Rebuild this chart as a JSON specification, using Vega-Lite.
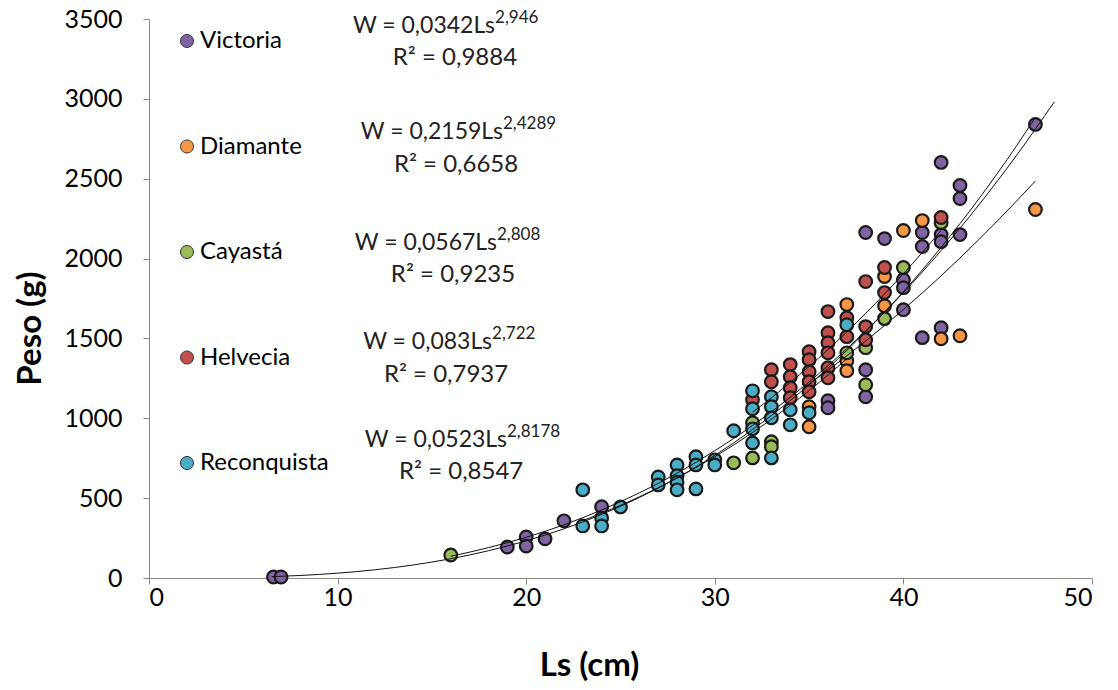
{
  "$schema": "https://vega.github.io/schema/vega-lite/v6.json",
  "width": 943,
  "height": 559,
  "autosize": {"type": "none"},
  "padding": {"left": 149, "top": 19, "right": 26, "bottom": 112},
  "background": "white",
  "config": {
    "view": {"stroke": null},
    "font": "Lato",
    "axis": {
      "grid": false,
      "domainColor": "#868686",
      "tickColor": "#868686",
      "tickSize": 6,
      "labelFont": "Lato",
      "labelFontSize": 25,
      "labelColor": "#000000",
      "titleFont": "Lato",
      "titleFontSize": 33,
      "titleFontWeight": "bold",
      "titleColor": "#000000"
    }
  },
  "datasets": {
    "points": [
      {"site": "Victoria", "Ls": 6.6, "W": 6},
      {"site": "Victoria", "Ls": 7.0, "W": 6},
      {"site": "Victoria", "Ls": 19, "W": 194},
      {"site": "Victoria", "Ls": 20, "W": 257},
      {"site": "Victoria", "Ls": 20, "W": 200},
      {"site": "Victoria", "Ls": 21, "W": 245},
      {"site": "Victoria", "Ls": 22, "W": 358},
      {"site": "Victoria", "Ls": 24, "W": 446},
      {"site": "Victoria", "Ls": 36, "W": 1110},
      {"site": "Victoria", "Ls": 36, "W": 1066},
      {"site": "Victoria", "Ls": 38, "W": 1304},
      {"site": "Victoria", "Ls": 38, "W": 1135},
      {"site": "Victoria", "Ls": 38, "W": 2163},
      {"site": "Victoria", "Ls": 39, "W": 2125},
      {"site": "Victoria", "Ls": 40, "W": 1868},
      {"site": "Victoria", "Ls": 40, "W": 1818},
      {"site": "Victoria", "Ls": 40, "W": 1680},
      {"site": "Victoria", "Ls": 41, "W": 2163},
      {"site": "Victoria", "Ls": 41, "W": 2075},
      {"site": "Victoria", "Ls": 41, "W": 1505},
      {"site": "Victoria", "Ls": 42, "W": 2602},
      {"site": "Victoria", "Ls": 42, "W": 2150},
      {"site": "Victoria", "Ls": 42, "W": 2106},
      {"site": "Victoria", "Ls": 42, "W": 1567},
      {"site": "Victoria", "Ls": 43, "W": 2458},
      {"site": "Victoria", "Ls": 43, "W": 2376},
      {"site": "Victoria", "Ls": 43, "W": 2150},
      {"site": "Victoria", "Ls": 47, "W": 2840},
      {"site": "Diamante", "Ls": 35, "W": 1072},
      {"site": "Diamante", "Ls": 35, "W": 947},
      {"site": "Diamante", "Ls": 37, "W": 1712},
      {"site": "Diamante", "Ls": 37, "W": 1360},
      {"site": "Diamante", "Ls": 37, "W": 1298},
      {"site": "Diamante", "Ls": 39, "W": 1887},
      {"site": "Diamante", "Ls": 39, "W": 1705},
      {"site": "Diamante", "Ls": 40, "W": 2176},
      {"site": "Diamante", "Ls": 41, "W": 2238},
      {"site": "Diamante", "Ls": 42, "W": 1498},
      {"site": "Diamante", "Ls": 43, "W": 1517},
      {"site": "Diamante", "Ls": 47, "W": 2307},
      {"site": "Cayastá", "Ls": 16, "W": 144},
      {"site": "Cayastá", "Ls": 31, "W": 721},
      {"site": "Cayastá", "Ls": 32, "W": 972},
      {"site": "Cayastá", "Ls": 32, "W": 752},
      {"site": "Cayastá", "Ls": 33, "W": 853},
      {"site": "Cayastá", "Ls": 33, "W": 822},
      {"site": "Cayastá", "Ls": 37, "W": 1410},
      {"site": "Cayastá", "Ls": 38, "W": 1442},
      {"site": "Cayastá", "Ls": 38, "W": 1210},
      {"site": "Cayastá", "Ls": 39, "W": 1624},
      {"site": "Cayastá", "Ls": 40, "W": 1944},
      {"site": "Cayastá", "Ls": 42, "W": 2225},
      {"site": "Helvecia", "Ls": 32, "W": 1116},
      {"site": "Helvecia", "Ls": 33, "W": 1304},
      {"site": "Helvecia", "Ls": 33, "W": 1229},
      {"site": "Helvecia", "Ls": 34, "W": 1336},
      {"site": "Helvecia", "Ls": 34, "W": 1260},
      {"site": "Helvecia", "Ls": 34, "W": 1191},
      {"site": "Helvecia", "Ls": 34, "W": 1129},
      {"site": "Helvecia", "Ls": 35, "W": 1417},
      {"site": "Helvecia", "Ls": 35, "W": 1367},
      {"site": "Helvecia", "Ls": 35, "W": 1292},
      {"site": "Helvecia", "Ls": 35, "W": 1229},
      {"site": "Helvecia", "Ls": 35, "W": 1166},
      {"site": "Helvecia", "Ls": 36, "W": 1668},
      {"site": "Helvecia", "Ls": 36, "W": 1536},
      {"site": "Helvecia", "Ls": 36, "W": 1473},
      {"site": "Helvecia", "Ls": 36, "W": 1410},
      {"site": "Helvecia", "Ls": 36, "W": 1317},
      {"site": "Helvecia", "Ls": 36, "W": 1254},
      {"site": "Helvecia", "Ls": 37, "W": 1630},
      {"site": "Helvecia", "Ls": 37, "W": 1511},
      {"site": "Helvecia", "Ls": 38, "W": 1856},
      {"site": "Helvecia", "Ls": 38, "W": 1574},
      {"site": "Helvecia", "Ls": 38, "W": 1492},
      {"site": "Helvecia", "Ls": 39, "W": 1944},
      {"site": "Helvecia", "Ls": 39, "W": 1787},
      {"site": "Helvecia", "Ls": 42, "W": 2257},
      {"site": "Reconquista", "Ls": 23, "W": 552},
      {"site": "Reconquista", "Ls": 23, "W": 326},
      {"site": "Reconquista", "Ls": 24, "W": 375},
      {"site": "Reconquista", "Ls": 24, "W": 326},
      {"site": "Reconquista", "Ls": 25, "W": 445},
      {"site": "Reconquista", "Ls": 27, "W": 633},
      {"site": "Reconquista", "Ls": 27, "W": 583},
      {"site": "Reconquista", "Ls": 28, "W": 708},
      {"site": "Reconquista", "Ls": 28, "W": 640},
      {"site": "Reconquista", "Ls": 28, "W": 600},
      {"site": "Reconquista", "Ls": 28, "W": 552},
      {"site": "Reconquista", "Ls": 29, "W": 759},
      {"site": "Reconquista", "Ls": 29, "W": 708},
      {"site": "Reconquista", "Ls": 29, "W": 558},
      {"site": "Reconquista", "Ls": 30, "W": 740},
      {"site": "Reconquista", "Ls": 30, "W": 708},
      {"site": "Reconquista", "Ls": 31, "W": 922},
      {"site": "Reconquista", "Ls": 32, "W": 1172},
      {"site": "Reconquista", "Ls": 32, "W": 1060},
      {"site": "Reconquista", "Ls": 32, "W": 934},
      {"site": "Reconquista", "Ls": 32, "W": 846},
      {"site": "Reconquista", "Ls": 33, "W": 1135},
      {"site": "Reconquista", "Ls": 33, "W": 1072},
      {"site": "Reconquista", "Ls": 33, "W": 1003},
      {"site": "Reconquista", "Ls": 33, "W": 752},
      {"site": "Reconquista", "Ls": 34, "W": 1053},
      {"site": "Reconquista", "Ls": 34, "W": 959},
      {"site": "Reconquista", "Ls": 35, "W": 1035},
      {"site": "Reconquista", "Ls": 37, "W": 1586}
    ],
    "curves": [
      {"site": "Victoria", "Ls": 6.5, "W": 8.5},
      {"site": "Victoria", "Ls": 8, "W": 15.7},
      {"site": "Victoria", "Ls": 10, "W": 30.2},
      {"site": "Victoria", "Ls": 12, "W": 51.7},
      {"site": "Victoria", "Ls": 14, "W": 81.4},
      {"site": "Victoria", "Ls": 16, "W": 120.6},
      {"site": "Victoria", "Ls": 18, "W": 170.7},
      {"site": "Victoria", "Ls": 20, "W": 232.7},
      {"site": "Victoria", "Ls": 22, "W": 308},
      {"site": "Victoria", "Ls": 24, "W": 398},
      {"site": "Victoria", "Ls": 26, "W": 504},
      {"site": "Victoria", "Ls": 28, "W": 627},
      {"site": "Victoria", "Ls": 30, "W": 768},
      {"site": "Victoria", "Ls": 32, "W": 929},
      {"site": "Victoria", "Ls": 34, "W": 1111},
      {"site": "Victoria", "Ls": 36, "W": 1314},
      {"site": "Victoria", "Ls": 38, "W": 1542},
      {"site": "Victoria", "Ls": 40, "W": 1793},
      {"site": "Victoria", "Ls": 42, "W": 2070},
      {"site": "Victoria", "Ls": 44, "W": 2374},
      {"site": "Victoria", "Ls": 46, "W": 2706},
      {"site": "Victoria", "Ls": 47, "W": 2884},
      {"site": "Cayastá", "Ls": 16, "W": 136},
      {"site": "Cayastá", "Ls": 18, "W": 190},
      {"site": "Cayastá", "Ls": 20, "W": 255},
      {"site": "Cayastá", "Ls": 22, "W": 333},
      {"site": "Cayastá", "Ls": 24, "W": 426},
      {"site": "Cayastá", "Ls": 26, "W": 533},
      {"site": "Cayastá", "Ls": 28, "W": 656},
      {"site": "Cayastá", "Ls": 30, "W": 797},
      {"site": "Cayastá", "Ls": 32, "W": 955},
      {"site": "Cayastá", "Ls": 34, "W": 1132},
      {"site": "Cayastá", "Ls": 36, "W": 1329},
      {"site": "Cayastá", "Ls": 38, "W": 1547},
      {"site": "Cayastá", "Ls": 40, "W": 1787},
      {"site": "Cayastá", "Ls": 42, "W": 2050},
      {"site": "Cayastá", "Ls": 44, "W": 2336},
      {"site": "Cayastá", "Ls": 46, "W": 2646},
      {"site": "Cayastá", "Ls": 48, "W": 2981},
      {"site": "Diamante", "Ls": 35, "W": 1215},
      {"site": "Diamante", "Ls": 36, "W": 1301},
      {"site": "Diamante", "Ls": 37, "W": 1391},
      {"site": "Diamante", "Ls": 38, "W": 1484},
      {"site": "Diamante", "Ls": 39, "W": 1581},
      {"site": "Diamante", "Ls": 40, "W": 1681},
      {"site": "Diamante", "Ls": 42, "W": 1892},
      {"site": "Diamante", "Ls": 44, "W": 2119},
      {"site": "Diamante", "Ls": 46, "W": 2360},
      {"site": "Diamante", "Ls": 47, "W": 2486},
      {"site": "Helvecia", "Ls": 32, "W": 1037},
      {"site": "Helvecia", "Ls": 34, "W": 1224},
      {"site": "Helvecia", "Ls": 36, "W": 1430},
      {"site": "Helvecia", "Ls": 38, "W": 1657},
      {"site": "Helvecia", "Ls": 40, "W": 1905},
      {"site": "Helvecia", "Ls": 42, "W": 2176},
      {"site": "Reconquista", "Ls": 23, "W": 359},
      {"site": "Reconquista", "Ls": 25, "W": 455},
      {"site": "Reconquista", "Ls": 27, "W": 565},
      {"site": "Reconquista", "Ls": 29, "W": 691},
      {"site": "Reconquista", "Ls": 31, "W": 833},
      {"site": "Reconquista", "Ls": 33, "W": 994},
      {"site": "Reconquista", "Ls": 35, "W": 1173},
      {"site": "Reconquista", "Ls": 37, "W": 1372}
    ]
  },
  "layer": [
    {
      "data": {"name": "points"},
      "mark": {"type": "circle", "size": 160, "stroke": "#1a1a1a", "strokeWidth": 2.2, "opacity": 1},
      "encoding": {
        "x": {
          "field": "Ls", "type": "quantitative",
          "scale": {"domain": [0, 50], "nice": false, "zero": true},
          "axis": {"title": "Ls (cm)", "values": [0, 10, 20, 30, 40, 50], "format": "d", "labelPadding": 1, "titleX": 440, "titleY": 87, "titleBaseline": "middle", "titleAnchor": "middle", "titleAlign": "center"}
        },
        "y": {
          "field": "W", "type": "quantitative",
          "scale": {"domain": [0, 3500], "nice": false},
          "axis": {"title": "Peso (g)", "values": [0, 500, 1000, 1500, 2000, 2500, 3000, 3500], "format": "d", "labelPadding": 21, "titleX": -119, "titleY": 309, "titleBaseline": "middle", "titleAlign": "center", "titleAngle": -90}
        },
        "fill": {
          "field": "site", "type": "nominal",
          "scale": {
            "domain": ["Victoria", "Diamante", "Cayastá", "Helvecia", "Reconquista"],
            "range": ["#8064A2", "#F79646", "#9BBB59", "#C0504D", "#4BACC6"]
          },
          "legend": {
            "title": null, "orient": "none", "legendX": 26, "legendY": 10, "direction": "vertical",
            "rowPadding": 81.5, "padding": 0, "labelFont": "Lato", "labelFontSize": 24, "labelColor": "#000000",
            "symbolType": "circle", "symbolSize": 170, "symbolStrokeColor": "#333333", "symbolStrokeWidth": 1,
            "labelOffset": 1, "symbolOpacity": 1
          }
        }
      }
    },
    {
      "data": {"name": "curves"},
      "mark": {"type": "line", "color": "#111111", "strokeWidth": 1, "interpolate": "monotone"},
      "encoding": {
        "x": {"field": "Ls", "type": "quantitative"},
        "y": {"field": "W", "type": "quantitative"},
        "detail": {"field": "site", "type": "nominal"}
      }
    },
    {"data": {"values": [{}]}, "mark": {"type": "text", "align": "right", "baseline": "middle", "fontSize": 23, "font": "Lato", "color": "#222"}, "encoding": {"x": {"datum": 18.35}, "y": {"datum": 3455}, "text": {"value": "W = 0,0342Ls"}}},
    {"data": {"values": [{}]}, "mark": {"type": "text", "align": "left", "baseline": "middle", "fontSize": 17, "font": "Lato", "color": "#222", "dy": -8}, "encoding": {"x": {"datum": 18.35}, "y": {"datum": 3455}, "text": {"value": "2,946"}}},
    {"data": {"values": [{}]}, "mark": {"type": "text", "align": "center", "baseline": "middle", "fontSize": 24, "font": "Lato", "color": "#222"}, "encoding": {"x": {"datum": 16.22}, "y": {"datum": 3255}, "text": {"value": "R² = 0,9884"}}},
    {"data": {"values": [{}]}, "mark": {"type": "text", "align": "right", "baseline": "middle", "fontSize": 23, "font": "Lato", "color": "#222"}, "encoding": {"x": {"datum": 18.77}, "y": {"datum": 2795}, "text": {"value": "W = 0,2159Ls"}}},
    {"data": {"values": [{}]}, "mark": {"type": "text", "align": "left", "baseline": "middle", "fontSize": 17, "font": "Lato", "color": "#222", "dy": -8}, "encoding": {"x": {"datum": 18.77}, "y": {"datum": 2795}, "text": {"value": "2,4289"}}},
    {"data": {"values": [{}]}, "mark": {"type": "text", "align": "center", "baseline": "middle", "fontSize": 24, "font": "Lato", "color": "#222"}, "encoding": {"x": {"datum": 16.28}, "y": {"datum": 2586}, "text": {"value": "R² = 0,6658"}}},
    {"data": {"values": [{}]}, "mark": {"type": "text", "align": "right", "baseline": "middle", "fontSize": 23, "font": "Lato", "color": "#222"}, "encoding": {"x": {"datum": 18.45}, "y": {"datum": 2100}, "text": {"value": "W = 0,0567Ls"}}},
    {"data": {"values": [{}]}, "mark": {"type": "text", "align": "left", "baseline": "middle", "fontSize": 17, "font": "Lato", "color": "#222", "dy": -8}, "encoding": {"x": {"datum": 18.45}, "y": {"datum": 2100}, "text": {"value": "2,808"}}},
    {"data": {"values": [{}]}, "mark": {"type": "text", "align": "center", "baseline": "middle", "fontSize": 24, "font": "Lato", "color": "#222"}, "encoding": {"x": {"datum": 16.12}, "y": {"datum": 1897}, "text": {"value": "R² = 0,9235"}}},
    {"data": {"values": [{}]}, "mark": {"type": "text", "align": "right", "baseline": "middle", "fontSize": 23, "font": "Lato", "color": "#222"}, "encoding": {"x": {"datum": 18.19}, "y": {"datum": 1475}, "text": {"value": "W = 0,083Ls"}}},
    {"data": {"values": [{}]}, "mark": {"type": "text", "align": "left", "baseline": "middle", "fontSize": 17, "font": "Lato", "color": "#222", "dy": -8}, "encoding": {"x": {"datum": 18.19}, "y": {"datum": 1475}, "text": {"value": "2,722"}}},
    {"data": {"values": [{}]}, "mark": {"type": "text", "align": "center", "baseline": "middle", "fontSize": 24, "font": "Lato", "color": "#222"}, "encoding": {"x": {"datum": 15.75}, "y": {"datum": 1271}, "text": {"value": "R² = 0,7937"}}},
    {"data": {"values": [{}]}, "mark": {"type": "text", "align": "right", "baseline": "middle", "fontSize": 23, "font": "Lato", "color": "#222"}, "encoding": {"x": {"datum": 18.98}, "y": {"datum": 862}, "text": {"value": "W = 0,0523Ls"}}},
    {"data": {"values": [{}]}, "mark": {"type": "text", "align": "left", "baseline": "middle", "fontSize": 17, "font": "Lato", "color": "#222", "dy": -8}, "encoding": {"x": {"datum": 18.98}, "y": {"datum": 862}, "text": {"value": "2,8178"}}},
    {"data": {"values": [{}]}, "mark": {"type": "text", "align": "center", "baseline": "middle", "fontSize": 24, "font": "Lato", "color": "#222"}, "encoding": {"x": {"datum": 16.55}, "y": {"datum": 664}, "text": {"value": "R² = 0,8547"}}}
  ]
}
